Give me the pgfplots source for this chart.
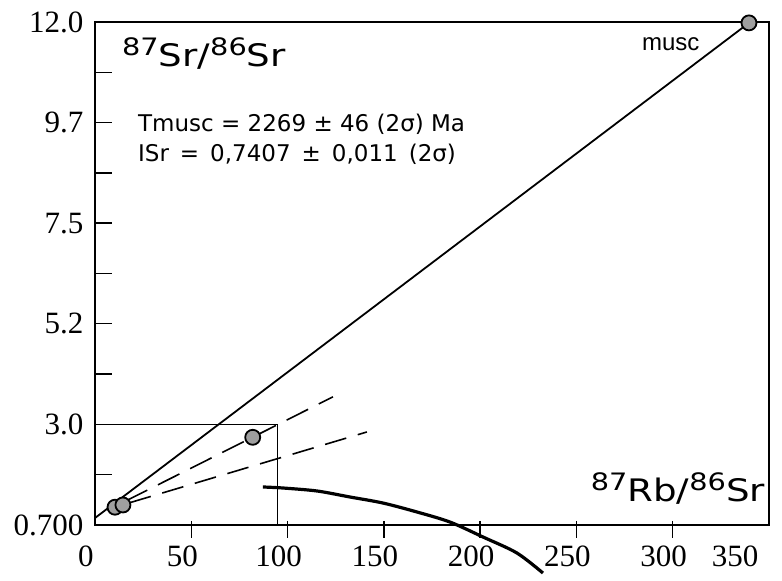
\documentclass[border=0pt]{standalone}
\usepackage{graphicx}
\usepackage{pgfplots}
\pgfplotsset{compat=1.18}
\usepackage{fontspec}
\setmainfont{Liberation Serif}
\newfontfamily\lab{DejaVu Sans}
\newfontfamily\labn{Liberation Sans}
\newcommand{\iso}[2]{\raisebox{#2}{\fontsize{24}{26}\selectfont #1}}
\newcommand{\g}{\hspace{11pt}}
\begin{document}
\begin{tikzpicture}[x=1pt,y=1pt]
\begin{axis}[
  scale only axis, width=674pt, height=503pt,
  at={(95pt,56pt)}, anchor=south west,
  xmin=0, xmax=350, ymin=0.7, ymax=12.0,
  clip=false,
  axis line style={line width=1.6pt},
  tick align=inside,
  major tick length=0pt, minor tick length=17pt,
  xtick={0,50,100,150,200,250,300,350},
  xticklabels={0,50,100,150,200,250,300,{350\hspace*{50pt}}},
  xtick pos=bottom, ytick pos=left,
  tick style={black, line width=1.4pt},
  x tick label style={xshift=-9pt, yshift=-17pt},
  ytick={0.7,2.96,5.22,7.48,9.74,12.0},
  yticklabels={0.700,3.0,5.2,7.5,9.7,12.0},
  minor ytick={1.83,4.09,6.35,8.61,10.87},
  y tick label style={xshift=-8pt},
  /pgf/number format/assume math mode=true,
  tick label style={font=\fontsize{31}{34}\selectfont},
]
% tick marks
\pgfplotsinvokeforeach{50,100,150,200,250,300}{
  \draw[black, line width=1.4pt] ([yshift=4pt]axis cs:#1,0.7) -- ([yshift=-13pt]axis cs:#1,0.7);
}
\pgfplotsinvokeforeach{5.22,7.48,9.74}{
  \draw[black, line width=1.4pt] (axis cs:0,#1) -- ([xshift=17pt]axis cs:0,#1);
}
% box
\addplot[black, line width=1.5pt] coordinates {(0,2.96) (94.8,2.96) (94.8,0.7)};
% isochron
\addplot[black, line width=1.8pt] coordinates {(0,0.857) (339.6,11.98)};
% dashed lines
\addplot[black, line width=1.6pt, dash pattern=on 24pt off 12pt] coordinates {(16,1.24) (123.6,3.58)};
\addplot[black, line width=1.6pt, dash pattern=on 22pt off 12pt] coordinates {(18,1.2) (141.2,2.79)};
% thick curve
\addplot[black, line width=3.2pt, smooth] coordinates {
 (87.2,1.554) (97.6,1.531) (115.3,1.464) (132.4,1.329) (149.5,1.194)
 (167.2,0.992) (184.3,0.767) (201.5,0.430) (219.1,0.071) (232.6,-0.379)};
% points
\addplot[only marks, mark=*, mark size=7.5pt,
  mark options={draw=black, line width=1.8pt, fill=gray!75}]
  coordinates {(10.4,1.10) (14.5,1.15) (81.9,2.67) (339.6,11.98)};
\node[anchor=base west, inner sep=0pt] at (axis cs:14,11.01)
  {\scalebox{1.2}[1]{\lab\fontsize{31}{33}\selectfont\iso{87}{11pt}Sr/\iso{86}{11pt}Sr}};
\node[anchor=base west, inner sep=0pt] at (axis cs:22.3,9.53)
  {\lab\fontsize{23}{25}\selectfont Tmusc = 2269 ± 46 (2σ) Ma};
\node[anchor=base west, inner sep=0pt] at (axis cs:22.3,8.86)
  {\lab\fontsize{23}{25}\selectfont ISr\g=\g0,7407\g±\g0,011\g(2σ)};
\node[anchor=base east, inner sep=0pt] at (axis cs:348,1.217)
  {\scalebox{1.2}[1]{\lab\fontsize{31}{33}\selectfont\iso{87}{11pt}Rb/\iso{86}{11pt}Sr}};
\node[anchor=base west, inner sep=0pt] at (axis cs:284,11.37)
  {\labn\fontsize{24}{26}\selectfont musc};
\end{axis}
\pgfresetboundingbox
\path (0,0) rectangle (782pt,581pt);
\end{tikzpicture}
\end{document}
